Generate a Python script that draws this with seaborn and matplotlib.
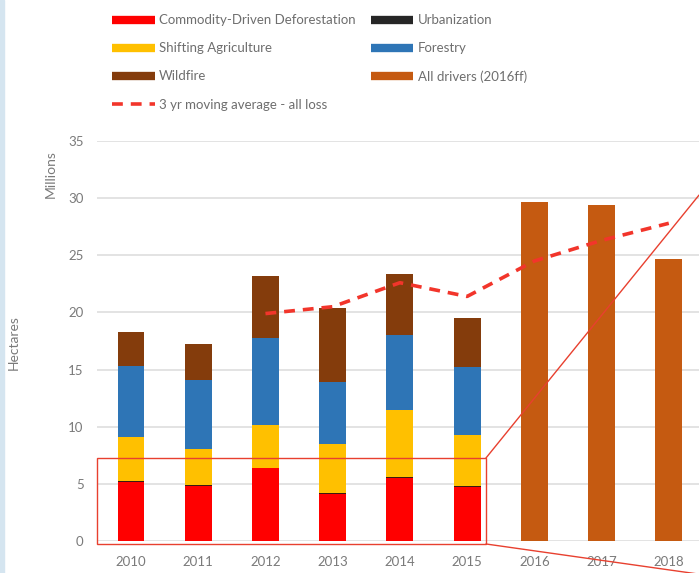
import numpy as np
import pandas as pd
import seaborn as sns
import matplotlib.pyplot as plt
from matplotlib.lines import Line2D
from matplotlib.patches import Rectangle

# values (million hectares)
years = ['2010', '2011', '2012', '2013', '2014', '2015', '2016', '2017', '2018']
commodity = [5.2, 4.85, 6.35, 4.1, 5.5, 4.7, 0, 0, 0]
urbanization = [0.08, 0.08, 0.08, 0.08, 0.08, 0.08, 0, 0, 0]
shifting = [3.8, 3.1, 3.75, 4.3, 5.9, 4.5, 0, 0, 0]
forestry = [6.2, 6.05, 7.6, 5.4, 6.55, 5.95, 0, 0, 0]
wildfire = [3.0, 3.2, 5.4, 6.5, 5.35, 4.25, 0, 0, 0]
all_drivers = [0, 0, 0, 0, 0, 0, 29.7, 29.4, 24.7]

ma_years = ['2012', '2013', '2014', '2015', '2016', '2017', '2018']
ma_values = [19.9, 20.5, 22.6, 21.4, 24.5, 26.3, 27.8]

COLORS = {
    'commodity': '#ff0000',
    'urbanization': '#3a1a10',
    'shifting': '#ffc000',
    'forestry': '#2e75b6',
    'wildfire': '#843c0c',
    'all': '#c55a11',
    'ma': '#f2352b',
    'box': '#e8402f',
    'grid': '#e3e3e3',
}

sns.set_style('white')
plt.rcParams['font.family'] = ['Lato', 'DejaVu Sans']

df = pd.DataFrame({
    'year': years,
    'commodity': commodity,
    'urbanization': urbanization,
    'shifting': shifting,
    'forestry': forestry,
    'wildfire': wildfire,
    'all': all_drivers,
})
stack = ['commodity', 'urbanization', 'shifting', 'forestry', 'wildfire']
cum = df[stack].cumsum(axis=1)

fig = plt.figure(figsize=(6.99, 5.73), dpi=100)
ax = fig.add_axes([97.4 / 699, 32 / 573, 605 / 699, 400 / 573])

# stacked bars: draw cumulative totals from the top down
for key in reversed(stack):
    sns.barplot(x=df['year'], y=cum[key], color=COLORS[key], width=0.4,
                saturation=1, linewidth=0, edgecolor='none', ax=ax, zorder=2)
sns.barplot(x=df['year'], y=df['all'], color=COLORS['all'], width=0.4,
            saturation=1, linewidth=0, edgecolor='none', ax=ax, zorder=2)

ma_pos = [years.index(y) for y in ma_years]
sns.lineplot(x=ma_pos, y=ma_values, color=COLORS['ma'], linewidth=2.6,
             linestyle=(0, (3, 2.2)), ax=ax, zorder=3)

ax.set_ylim(0, 35)
ax.set_xlim(-0.5, 8.5)
ax.set_yticks(np.arange(0, 36, 5))
ax.yaxis.grid(True, color=COLORS['grid'], linewidth=1.4)
ax.set_axisbelow(True)
sns.despine(ax=ax, left=True, bottom=True)
ax.tick_params(axis='both', length=0, labelsize=9.5, colors='#7a7a7a')
ax.tick_params(axis='y', pad=10)
ax.tick_params(axis='x', pad=11)
ax.set_xlabel('')
ax.set_ylabel('')

# zoom callout box and connector lines
ax.add_patch(Rectangle((-0.5, -0.26), 5.78, 7.52, fill=False,
                       edgecolor=COLORS['box'], linewidth=1.0,
                       clip_on=False, zorder=4))
ax.plot([5.28, 8.45], [7.26, 30.27], color=COLORS['box'], lw=1.0,
        clip_on=False, zorder=4)
ax.plot([5.28, 8.45], [-0.26, -2.9], color=COLORS['box'], lw=1.0,
        clip_on=False, zorder=4)

fig.text(51 / 699, 1 - 174 / 573, 'Millions', rotation=90, ha='center',
         va='center', fontsize=10, color='#7a7a7a')
fig.text(14 / 699, 1 - 343 / 573, 'Hectares', rotation=90, ha='center',
         va='center', fontsize=10, color='#7a7a7a')

handles = [
    Line2D([0], [0], color=COLORS['commodity'], lw=6, solid_capstyle='butt',
           label='Commodity-Driven Deforestation'),
    Line2D([0], [0], color=COLORS['shifting'], lw=6, solid_capstyle='butt',
           label='Shifting Agriculture'),
    Line2D([0], [0], color=COLORS['wildfire'], lw=6, solid_capstyle='butt',
           label='Wildfire'),
    Line2D([0], [0], color=COLORS['ma'], lw=2.6, linestyle=(0, (3, 2.2)),
           label='3 yr moving average - all loss'),
    Line2D([0], [0], color='#262626', lw=6, solid_capstyle='butt',
           label='Urbanization'),
    Line2D([0], [0], color=COLORS['forestry'], lw=6, solid_capstyle='butt',
           label='Forestry'),
    Line2D([0], [0], color=COLORS['all'], lw=6, solid_capstyle='butt',
           label='All drivers (2016ff)'),
]
leg = fig.legend(handles=handles, ncol=2, loc='upper left',
                 bbox_to_anchor=(107 / 699, 1 - 9 / 573), frameon=False,
                 fontsize=9.5, handlelength=3.2, handletextpad=0.35,
                 labelspacing=1.22, columnspacing=1.15, borderaxespad=0)
for t in leg.get_texts():
    t.set_color('#6e6e6e')

# pale strip along the left edge
fig.patches.append(Rectangle((0, 0), 4 / 699, 1, transform=fig.transFigure,
                             color='#d5e5f0', zorder=0))

fig.savefig('out.png', dpi=100)
